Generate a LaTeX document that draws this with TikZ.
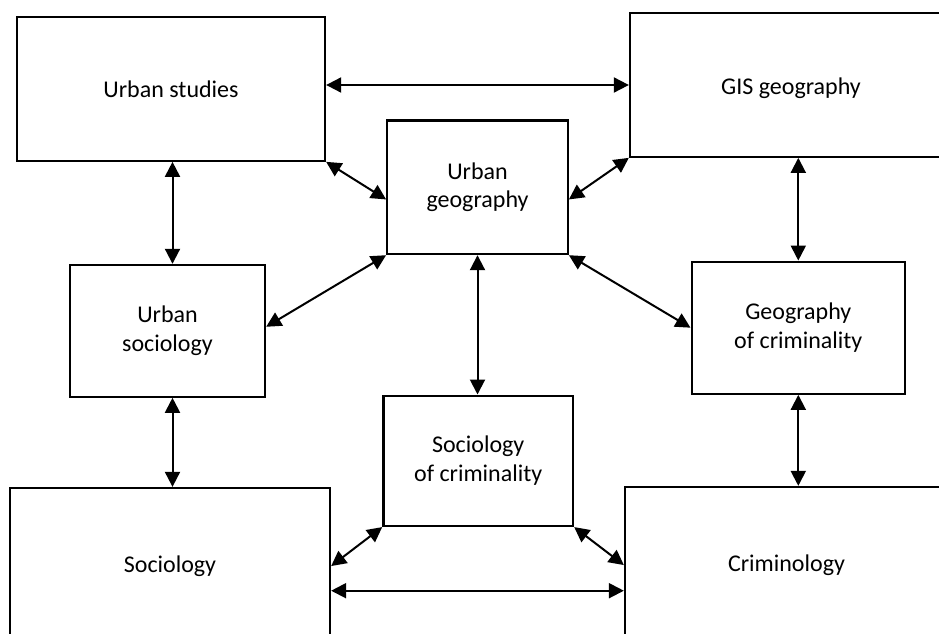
\documentclass[tikz,border=0pt]{standalone}
\usepackage{fontspec}
\setmainfont{Carlito}
\usetikzlibrary{arrows.meta,calc}
\begin{document}
\begin{tikzpicture}[x=1pt,y=-1pt,
  box/.style={draw,line width=2.3pt,rectangle,inner sep=0pt,align=center,
    font=\fontsize{24}{28.5}\selectfont},
  oneline/.style={text height=18pt,text depth=0pt},
  link/.style={line width=2pt,
    {Triangle[length=15pt,width=15pt]}-{Triangle[length=15pt,width=15pt]}}]
\clip (0,0) rectangle (939,634);
\node[box,oneline,minimum width=308pt,minimum height=144pt] (US) at (171,88.7) {Urban studies};
\node[box,oneline,minimum width=322pt,minimum height=143.4pt] (GIS) at (791,85) {GIS geography};
\node[box,minimum width=180.5pt,minimum height=133.7pt] (UG) at (477.5,187.2) {Urban\\geography};
\node[box,minimum width=195pt,minimum height=131.7pt] (USoc) at (167.5,330.8) {Urban\\sociology};
\node[box,minimum width=213.3pt,minimum height=132pt] (GC) at (798.3,327.7) {Geography\\of criminality};
\node[box,minimum width=189.7pt,minimum height=130.3pt] (SC) at (478.2,460.8) {Sociology\\of criminality};
\node[box,oneline,minimum width=320pt,minimum height=150pt] (Soc) at (170,563) {Sociology};
\node[box,oneline,minimum width=323pt,minimum height=150pt] (Crim) at (786.5,562) {Criminology};
\coordinate (lx) at (172.5,0);
\coordinate (by) at (0,590.7);
\draw[link] (GIS.west -| US.east) -- (GIS.west);
\draw[link] (US.south east) -- ($(UG.north west)!0.59!(UG.south west)$);
\draw[link] (GIS.south west) -- ($(UG.north east)!0.59!(UG.south east)$);
\draw[link] (US.south -| lx) -- (USoc.north -| lx);
\draw[link] (USoc.south -| lx) -- (Soc.north -| lx);
\draw[link] (UG.south west) -- ($(USoc.north east)!0.47!(USoc.south east)$);
\draw[link] (UG.south east) -- (GC.west);
\draw[link] (UG.south) -- (UG.south |- SC.north);
\draw[link] (GIS.south -| GC.north) -- (GC.north);
\draw[link] (GC.south) -- (GC.south |- Crim.north);
\draw[link] (SC.south west) -- ($(Soc.north east)!0.52!(Soc.south east)$);
\draw[link] (SC.south east) -- ($(Crim.north west)!0.52!(Crim.south west)$);
\draw[link] (by -| Soc.east) -- (by -| Crim.west);
\end{tikzpicture}
\end{document}
